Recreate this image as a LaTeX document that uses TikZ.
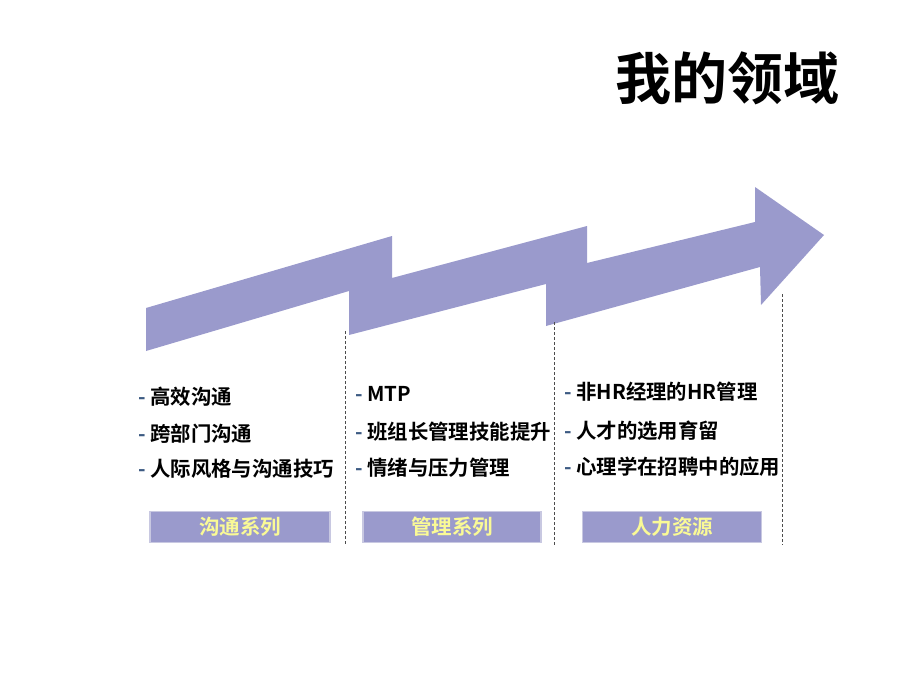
\documentclass[tikz,border=0pt]{standalone}
\usepackage{fontspec}
\newfontfamily\cjk{Noto Sans CJK SC}[BoldFont={Noto Sans CJK SC Bold}]
\definecolor{arrowfill}{RGB}{154,154,204}
\definecolor{boxrim}{RGB}{200,200,225}
\definecolor{boxtext}{RGB}{250,250,150}
\definecolor{dashblue}{RGB}{60,90,130}
\begin{document}
\begin{tikzpicture}[
                x=1pt,y=-1pt,
                every node/.style={inner sep=0pt},
                heading/.style={font=\cjk\bfseries\fontsize{56}{62}\selectfont},
                item/.style={anchor=west,font=\cjk\bfseries\fontsize{20.4}{24}\selectfont},
                series/.style={draw=boxrim,line width=1.2pt,fill=arrowfill,minimum height=31pt,
                        text=boxtext,font=\cjk\bfseries\fontsize{20.5}{24}\selectfont},
                guide/.style={line width=0.8pt,gray!60!black,dash pattern=on 3pt off 2pt}
            ]
            \useasboundingbox (0,0) rectangle (920,690);

            \node[heading] (title) at (727,78) {我的领域};

            % zigzag arrow
            \fill[arrowfill] (146,351) -- (146,308) -- (392,236) -- (392,278)
                -- (587,226) -- (587,263) -- (755,222) -- (755,187) -- (824,235)
                -- (761,305) -- (760,267) -- (546,326) -- (546,284)
                -- (349,335) -- (349,291) -- cycle;

            % dashed guides
            \coordinate (g1top) at (345,331);
            \coordinate (g1bot) at (345,545);
            \coordinate (g2top) at (554,322);
            \coordinate (g2bot) at (554,545);
            \coordinate (g3top) at (782,294);
            \coordinate (g3bot) at (782,545);
            \draw[guide] (g1top) -- (g1bot);
            \draw[guide] (g2top) -- (g2bot);
            \draw[guide] (g3top) -- (g3bot);

            % first column
            \node[item] (c1a) at (138,397) {{\color{dashblue}-} 高效沟通};
            \node[item] (c1b) at (138,434) {{\color{dashblue}-} 跨部门沟通};
            \node[item] (c1c) at (138,469) {{\color{dashblue}-} 人际风格与沟通技巧};
            \node[series,minimum width=180pt] (s1) at (240,527) {沟通系列};

            % second column
            \node[item] (c2a) at (355,394) {{\color{dashblue}-} MTP};
            \node[item] (c2b) at (355,432) {{\color{dashblue}-} 班组长管理技能提升};
            \node[item] (c2c) at (355,468) {{\color{dashblue}-} 情绪与压力管理};
            \node[series,minimum width=178pt] (s2) at (452,527) {管理系列};

            % third column
            \node[item] (c3a) at (564,392) {{\color{dashblue}-} 非HR经理的HR管理};
            \node[item] (c3b) at (564,431) {{\color{dashblue}-} 人才的选用育留};
            \node[item] (c3c) at (564,467) {{\color{dashblue}-} 心理学在招聘中的应用};
            \node[series,minimum width=179pt] (s3) at (672,527) {人力资源};

        \end{tikzpicture}
\end{document}
